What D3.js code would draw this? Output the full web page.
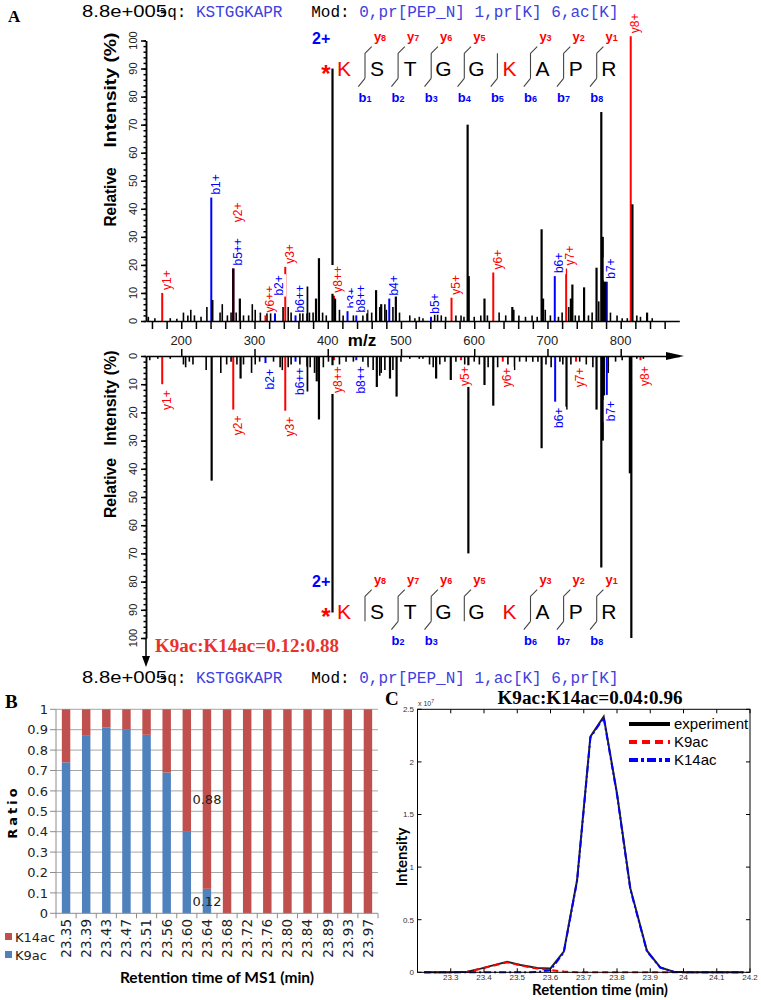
<!DOCTYPE html>
<html><head><meta charset="utf-8">
<script src="https://cdn.jsdelivr.net/npm/d3@7/dist/d3.min.js"></script>
<style>body{margin:0;background:#fff}</style>
</head><body>
<script>
// ================= DATA =================
const peptideSeq = "KSTGGKAPR";
const precursorLabel = "8.8e+005";
const modTop = "0,pr[PEP_N] 1,pr[K] 6,ac[K]";
const modBottom = "0,pr[PEP_N] 1,ac[K] 6,pr[K]";
const modifiedResidues = [0, 5];
const yIonNums = [8, 7, 6, 5, 4, 3, 2, 1];
const bIonNums = [1, 2, 3, 4, 5, 6, 7, 8];
const topYShown = [1, 1, 1, 1, 0, 1, 1, 1];
const topBShown = [1, 1, 1, 1, 1, 1, 1, 1];
const botYShown = [1, 1, 1, 1, 0, 1, 1, 1];
const botBShown = [0, 1, 1, 0, 0, 1, 1, 1];
const ratioTextA = "K9ac:K14ac=0.12:0.88";

const mzTicks = [200, 300, 400, 500, 600, 700, 800];
const intensityTicks = [0, 10, 20, 30, 40, 50, 60, 70, 80, 90, 100];

// top spectrum: [m/z, relative intensity]
const topNoise = [[155,1.5],[164,1],[185,1],[194,0.8],[203,3],[209,2],[213,4],[218,2],[227,1.5],[235,5],[253,3],[256,6],[263,2],[268,3],[275,3],[285,2],[292,2],[297,6],[301,4],[308,3],[317,3],[322,4],[339,5],[346,5],[350,3],[362,3],[366,3],[375,3],[380,3],[393,3],[398,2],[416,4],[421,2],[435,2],[448,2],[460,3],[471,5],[478,6],[480,4],[489,5],[498,3],[512,2],[519,1],[525,1.5],[530,1],[546,3],[550,3],[555,2],[561,1.5],[575,2],[582,2],[586,1.5],[600,1.5],[609,2],[618,2],[634,3],[643,2],[654,4],[661,2],[670,1.5],[679,2],[686,1.5],[697,4],[704,2],[715,1.5],[720,3],[729,5],[738,2],[743,2],[756,2],[761,3],[770,7],[786,3],[795,2],[802,1],[809,1],[822,2],[827,1.5],[843,1]];
const topMajor = [[242.5,7.5],[271,18.7],[280,8],[372,12.3],[384,8],[388,22.4],[406.5,90],[410,8],[454,4],[466,11],[473,6],[493,9],[591,70],[592.5,16],[614,8],[652,5],[692,32.7],[694,8],[732,8],[734,13],[750,12],[767,19],[773.5,74.5],[775.5,30],[777,14],[779,14],[816,41.6],[836,3]];
// annotated ions: [label, m/z, intensity, type]
const topIons = [["y1+",174,10,"y"],["b1+",241,44,"b"],["b5++",271,18.7,"b"],["y2+",271,18.7,"y"],["y6++",315,2,"y"],["b2+",328,8,"b"],["y3+",342,19.3,"y"],["b6++",356,2,"b"],["y8++",408.5,9,"y"],["b3+",427,3.5,"b"],["b8++",439,2,"b"],["b4+",484,8,"b"],["b5+",541,1.5,"b"],["y5+",569,8.3,"y"],["y6+",626,17.3,"y"],["b6+",710,16,"b"],["y7+",725.5,18.7,"y"],["b7+",781,14,"b"],["y8+",813.7,101.5,"y"]];

// bottom (mirror) spectrum
const botNoise = [[157,1.5],[168,1],[185,1],[203,3],[206,4],[211,2],[216,3],[234,5],[254,6],[262,3],[268,2],[276,3],[285,3],[296,6],[301,3],[307,2],[326,2],[335,4],[338,5],[346,4],[350,3],[362,3],[376,4],[382,6],[394,4],[401,2],[416,3],[425,2],[435,2],[448,2],[455,4],[462,5],[471,7],[473,6],[478,5],[489,5],[500,2],[512,1],[525,1],[530,1],[539,3],[544,4],[553,3],[560,2],[575,2],[587,3],[600,2],[607,3],[619,4],[632,4],[646,3],[655,5],[662,2],[671,2],[680,2],[687,2],[698,3],[705,4],[717,2],[721,3],[732,3],[744,2],[753,3],[762,4],[783,6],[793,2],[802,1.5],[822,1],[831,1]];
const botMajor = [[241.5,44.2],[281,8],[372,12.6],[385,9],[388,22.5],[406.5,91],[467,11],[485,8],[494,14.4],[548,8],[568,8.5],[592,70],[614,10.3],[626,17.6],[692,32.7],[726,19],[767,19],[773.5,75],[775.5,30],[777,14],[812.5,41.6],[814.5,100]];
const botIons = [["y1+",174,10,"y"],["y2+",271,19,"y"],["b2+",315,2.5,"b"],["y3+",342,19.4,"y"],["b6++",356,2,"b"],["y8++",408.5,1.5,"y"],["b8++",439,1.5,"b"],["y5+",582,1.5,"y"],["y6+",639,2,"y"],["b6+",710.5,16.2,"b"],["y7+",739,2,"y"],["b7+",781,13.8,"b"],["y8+",827,1.5,"y"]];

// panel B
const rtLabels = ["23.35","23.39","23.43","23.47","23.51","23.56","23.60","23.64","23.68","23.72","23.76","23.80","23.84","23.89","23.93","23.97"];
const k9acRatio  = [0.74,0.87,0.91,0.90,0.875,0.69,0.40,0.12,0,0,0,0,0,0,0,0];
const k14acRatio = [0.26,0.13,0.09,0.10,0.125,0.31,0.60,0.88,1,1,1,1,1,1,1,1];
const ratioTicks = [0,0.1,0.2,0.3,0.4,0.5,0.6,0.7,0.8,0.9,1];
const ratioTickLabels = ["0","0.1","0.2","0.3","0.4","0.5","0.6","0.7","0.8","0.9","1"];
const labelledBar = "23.64";

// panel C (intensity in units of 1e7)
const rtTimes    = [23.22,23.26,23.30,23.35,23.39,23.43,23.47,23.51,23.56,23.60,23.64,23.68,23.72,23.76,23.80,23.84,23.89,23.93,23.97,24.01,24.05,24.09,24.14,24.18];
const expInt     = [0,0,0,0.005,0.035,0.068,0.10,0.07,0.04,0.037,0.196,0.877,2.24,2.43,1.70,0.80,0.205,0.047,0.005,0,0,0,0,0];
const k9acInt    = [0,0,0,0.005,0.033,0.065,0.095,0.065,0.035,0.02,0.008,0,0,0,0,0,0,0,0,0,0,0,0,0];
const k14acInt   = [0,0,0,0,0,0,0,0,0.003,0.02,0.19,0.87,2.23,2.42,1.69,0.79,0.20,0.045,0.005,0,0,0,0,0];
const cXTicks = [23.3,23.4,23.5,23.6,23.7,23.8,23.9,24,24.1,24.2];
const cXTickLabels = ["23.3","23.4","23.5","23.6","23.7","23.8","23.9","24","24.1","24.2"];
const cYTicks = [0,0.5,1,1.5,2,2.5];
const cYTickLabels = ["0","0.5","1","1.5","2","2.5"];
const legendC = ["experiment","K9ac","K14ac"];
const titleC = "K9ac:K14ac=0.04:0.96";

// ================= DRAWING =================
const SANS = "Liberation Sans, Arial, sans-serif";
const SERIF = "Liberation Serif, Times New Roman, serif";
const MONO = "Liberation Mono, Courier New, monospace";
const RED = "#ff0000", BLUE = "#0000ff", MODBLUE = "#4040e0";

const svg = d3.select("body").append("svg")
  .attr("width", 761).attr("height", 1000)
  .style("font-family", SANS);

function header(yb, mod) {
  const t = svg.append("text").attr("x", 148).attr("y", yb)
    .attr("font-family", MONO).attr("font-size", 16).style("white-space", "pre");
  t.append("tspan").attr("fill", "#000").text("Seq: ");
  t.append("tspan").attr("fill", MODBLUE).text(peptideSeq);
  t.append("tspan").attr("fill", "#000").text("   Mod: ");
  t.append("tspan").attr("fill", MODBLUE).text(mod);
  svg.append("rect").attr("x", 80).attr("y", yb - 15).attr("width", 81).attr("height", 20).attr("fill", "#fff");
  svg.append("text").attr("x", 82).attr("y", yb).attr("font-size", 16)
    .attr("textLength", 85).attr("lengthAdjust", "spacingAndGlyphs").text(precursorLabel);
}
header(17, modTop);
header(683, modBottom);

// panel letters
svg.append("text").attr("x", 8).attr("y", 22).attr("font-family", SERIF).attr("font-weight", "bold").attr("font-size", 17).text("A");
svg.append("text").attr("x", 5).attr("y", 708).attr("font-family", SERIF).attr("font-weight", "bold").attr("font-size", 19).text("B");
svg.append("text").attr("x", 385).attr("y", 705).attr("font-family", SERIF).attr("font-weight", "bold").attr("font-size", 19).text("C");

// ---------- Panel A ----------
const xA = d3.scaleLinear().domain([152, 880]).range([146.1, 679.3]);
const yTop = d3.scaleLinear().domain([0, 100]).range([321, 40.5]);
const yBot = d3.scaleLinear().domain([0, 100]).range([356, 638]);

const gA = svg.append("g");

function peaks(data, y, color, w) {
  gA.append("g").selectAll("line").data(data).join("line")
    .attr("x1", d => xA(d[0])).attr("x2", d => xA(d[0]))
    .attr("y1", y(0)).attr("y2", d => y(d[1]))
    .attr("stroke", color).attr("stroke-width", w);
}
const ionColor = t => t === "y" ? RED : BLUE;

function ionLines(ions, y) {
  gA.append("g").selectAll("line").data(ions).join("line")
    .attr("x1", d => xA(d[1])).attr("x2", d => xA(d[1]))
    .attr("y1", y(0)).attr("y2", d => y(d[2]))
    .attr("stroke", d => ionColor(d[3])).attr("stroke-width", 2);
}

peaks(topNoise, yTop, "#000", 1.6);
ionLines(topIons, yTop);
peaks(topMajor, yTop, "#000", 2.2);
peaks(botNoise, yBot, "#000", 1.6);
ionLines(botIons, yBot);
peaks(botMajor, yBot, "#000", 2.2);

function ionLabels(ions, y, isTop) {
  const stack = {};
  ions.forEach(d => {
    const x = xA(d[1]) + 4;
    let anchorY;
    if (isTop) {
      anchorY = y(d[2]) - 3;
      if (stack[d[1]] !== undefined) anchorY = stack[d[1]] - 16;
    } else {
      anchorY = y(d[2]) + 6;
    }
    const g = gA.append("g").attr("transform", `translate(${x},${anchorY}) rotate(-90)`);
    const r = g.append("rect").attr("fill", "#fff");
    const t = g.append("text").attr("font-size", 12).attr("fill", ionColor(d[3]))
      .attr("text-anchor", isTop ? "start" : "end").attr("dy", "0.36em").text(d[0]);
    const L = t.node().getComputedTextLength();
    r.attr("x", isTop ? -1 : -L - 1).attr("y", -7).attr("width", L + 2).attr("height", 14);
    if (isTop) stack[d[1]] = anchorY - L;
  });
}
ionLabels(topIons, yTop, true);
ionLabels(botIons, yBot, false);

// axes
const axisStyle = g => { g.selectAll("path,line").attr("stroke", "#000").attr("stroke-width", 1.5); g.selectAll("text").remove(); };
gA.append("g").attr("transform", "translate(146,0)")
  .call(d3.axisLeft(yTop).tickValues(intensityTicks).tickSize(5).tickSizeOuter(0)).call(axisStyle);
gA.append("g").attr("transform", "translate(146,0)")
  .call(d3.axisLeft(yTop).tickValues(d3.range(0, 101, 2)).tickSize(2.5).tickSizeOuter(0)).call(axisStyle);
gA.append("g").attr("transform", "translate(146,0)")
  .call(d3.axisLeft(yBot).tickValues(intensityTicks).tickSize(5).tickSizeOuter(0)).call(axisStyle);
gA.append("g").attr("transform", "translate(146,0)")
  .call(d3.axisLeft(yBot).tickValues(d3.range(0, 101, 2)).tickSize(2.5).tickSizeOuter(0)).call(axisStyle);
gA.append("g").attr("transform", "translate(0,321)")
  .call(d3.axisBottom(xA).tickValues(d3.range(160, 861, 20)).tickSize(8).tickSizeOuter(0)).call(axisStyle);
gA.append("g").attr("transform", "translate(0,356)")
  .call(d3.axisTop(xA).tickValues(mzTicks).tickSize(7).tickSizeOuter(0)).call(axisStyle);
// arrows
gA.append("line").attr("x1", 146).attr("x2", 146).attr("y1", 638).attr("y2", 660).attr("stroke", "#000").attr("stroke-width", 1.5);
gA.append("path").attr("d", "M142,656 L146,667 L150,656 Z").attr("fill", "#000");
gA.append("path").attr("d", "M666,352 L684,356 L666,360 Z").attr("fill", "#000");

// tick labels
gA.append("g").selectAll("text").data(mzTicks).join("text")
  .attr("x", d => xA(d)).attr("y", 345).attr("text-anchor", "middle")
  .attr("font-size", 13).attr("fill", "#222").text(d => d);
function yTickLabels(y) {
  gA.append("g").selectAll("text").data(intensityTicks).join("text")
    .attr("transform", d => `translate(137,${y(d)}) rotate(-90)`)
    .attr("text-anchor", "middle").attr("font-size", 11).attr("fill", "#222").text(d => d);
}
yTickLabels(yTop);
yTickLabels(yBot);
gA.append("text").attr("x", 362).attr("y", 346).attr("text-anchor", "middle")
  .attr("font-weight", "bold").attr("font-size", 17).text("m/z");

// axis titles (rotated)
function rotTitle(txt, cx, cy, len) {
  gA.append("text").attr("transform", `translate(${cx},${cy}) rotate(-90)`)
    .attr("text-anchor", "middle").attr("font-weight", "bold").attr("font-size", 16)
    .attr("textLength", len).attr("lengthAdjust", "spacingAndGlyphs").text(txt);
}
rotTitle("Relative", 116, 197, 59);
rotTitle("Intensity (%)", 116, 90, 115);
rotTitle("Relative", 116, 488, 60);
rotTitle("Intensity (%)", 116, 398, 95);

// sequence annotations
function sequence(cy, yShown, bShown) {
  const g = svg.append("g");
  const lx = i => 344 + i * 33.1;
  g.append("text").attr("x", 312).attr("y", cy - 24).attr("font-weight", "bold")
    .attr("font-size", 16).attr("fill", BLUE).text("2+");
  g.append("text").attr("x", 326).attr("y", cy + 14).attr("text-anchor", "middle")
    .attr("font-weight", "bold").attr("font-size", 24).attr("fill", RED).text("*");
  g.selectAll("text.res").data(peptideSeq.split("")).join("text").attr("class", "res")
    .attr("x", (d, i) => lx(i)).attr("y", cy + 7.5).attr("text-anchor", "middle")
    .attr("font-size", 21).attr("fill", (d, i) => modifiedResidues.includes(i) ? RED : "#000").text(d => d);
  for (let i = 0; i < 8; i++) {
    const xb = lx(i) + 21;
    if (!yShown[i] && !bShown[i]) continue;
    const p = g.append("path").attr("stroke", "#444").attr("stroke-width", 1.1).attr("fill", "none");
    let d = `M${xb},${cy - 14.7} L${xb},${cy + 10.3}`;
    if (yShown[i]) d += ` M${xb},${cy - 14.7} L${xb + 6.7},${cy - 21.3}`;
    if (bShown[i]) d += ` M${xb},${cy + 10.3} L${xb - 6.7},${cy + 18.7}`;
    p.attr("d", d);
    if (yShown[i]) {
      const t = g.append("text").attr("x", xb + 15).attr("y", cy - 27).attr("text-anchor", "middle")
        .attr("font-weight", "bold").attr("fill", RED);
      t.append("tspan").attr("font-size", 13).text("y");
      t.append("tspan").attr("font-size", 9).text(yIonNums[i]);
    }
    if (bShown[i]) {
      const t = g.append("text").attr("x", xb).attr("y", cy + 34).attr("text-anchor", "middle")
        .attr("font-weight", "bold").attr("fill", BLUE);
      t.append("tspan").attr("font-size", 13).text("b");
      t.append("tspan").attr("font-size", 9).text(bIonNums[i]);
    }
  }
}
sequence(68, topYShown, topBShown);
sequence(611, botYShown, botBShown);

svg.append("text").attr("x", 155).attr("y", 652).attr("font-family", SERIF).attr("font-weight", "bold")
  .attr("font-size", 18).attr("textLength", 184).attr("lengthAdjust", "spacingAndGlyphs")
  .attr("fill", "#e8322e").text(ratioTextA);

// ---------- Panel B ----------
const gB = svg.append("g").style("font-family", "DejaVu Sans, Verdana, sans-serif");
const xB = d3.scaleBand().domain(rtLabels).range([56, 378]).paddingInner(0.58).paddingOuter(0.29);
const yB = d3.scaleLinear().domain([0, 1]).range([913.3, 709.3]);
const table = rtLabels.map((rt, i) => ({ rt, K9ac: k9acRatio[i], K14ac: k14acRatio[i] }));
const stacked = d3.stack().keys(["K9ac", "K14ac"])(table);
const colorB = { K9ac: "#4f81bd", K14ac: "#c0504d" };

gB.append("g").selectAll("line").data(ratioTicks.slice(1)).join("line")
  .attr("x1", 56).attr("x2", 378).attr("y1", d => yB(d)).attr("y2", d => yB(d))
  .attr("stroke", "#a6a6a6").attr("stroke-width", 1);
gB.append("g").selectAll("line").data(ratioTicks).join("line")
  .attr("x1", 50).attr("x2", 56).attr("y1", d => yB(d)).attr("y2", d => yB(d))
  .attr("stroke", "#8c8c8c");
gB.append("line").attr("x1", 56).attr("x2", 56).attr("y1", yB(0)).attr("y2", yB(1)).attr("stroke", "#8c8c8c");

stacked.forEach(s => {
  gB.append("g").selectAll("rect").data(s).join("rect")
    .attr("x", d => xB(d.data.rt)).attr("width", xB.bandwidth())
    .attr("y", d => yB(d[1])).attr("height", d => yB(d[0]) - yB(d[1]))
    .attr("fill", colorB[s.key]);
});
gB.append("line").attr("x1", 56).attr("x2", 378).attr("y1", yB(0)).attr("y2", yB(0)).attr("stroke", "#8c8c8c");
gB.append("g").selectAll("line").data(d3.range(rtLabels.length + 1)).join("line")
  .attr("x1", i => 56 + i * xB.step()).attr("x2", i => 56 + i * xB.step())
  .attr("y1", yB(0)).attr("y2", yB(0) + 5).attr("stroke", "#8c8c8c");

gB.append("g").selectAll("text").data(ratioTicks).join("text")
  .attr("x", 48).attr("y", d => yB(d)).attr("dy", "0.36em").attr("text-anchor", "end")
  .attr("font-size", 13).attr("fill", "#222").text((d, i) => ratioTickLabels[i]);
gB.append("g").selectAll("text").data(rtLabels).join("text")
  .attr("transform", d => `translate(${xB(d) + xB.bandwidth() / 2},919) rotate(-90)`)
  .attr("dy", "0.36em").attr("text-anchor", "end").attr("font-size", 13.5).attr("fill", "#222").text(d => d);

// data labels
stacked.forEach(s => {
  const d = s.find(e => e.data.rt === labelledBar);
  gB.append("text").attr("x", xB(labelledBar) + xB.bandwidth() / 2).attr("y", yB((d[0] + d[1]) / 2))
    .attr("dy", "0.36em").attr("text-anchor", "middle").attr("font-size", 13).attr("fill", "#222")
    .text(d3.format(".2f")(d[1] - d[0]));
});

// legend B
[["K14ac", 937], ["K9ac", 955]].forEach(([k, yy]) => {
  gB.append("rect").attr("x", 5).attr("y", yy - 4).attr("width", 7).attr("height", 7).attr("fill", colorB[k]);
  gB.append("text").attr("x", 15).attr("y", yy).attr("dy", "0.36em").attr("font-size", 13).attr("fill", "#222").text(k);
});
gB.append("text").attr("transform", "translate(12,812) rotate(-90)").attr("text-anchor", "middle")
  .attr("font-weight", "bold").attr("font-size", 13).attr("letter-spacing", 3).attr("dy", "0.36em").text("Ratio");
gB.append("text").attr("x", 217).attr("y", 983).attr("text-anchor", "middle")
  .style("font-family", "Lato, sans-serif").attr("font-weight", "bold").attr("font-size", 15.5)
  .text("Retention time of MS1 (min)");

// ---------- Panel C ----------
const gC = svg.append("g");
const xC = d3.scaleLinear().domain([23.2, 24.2]).range([417.5, 750]);
const yC = d3.scaleLinear().domain([0, 2.5]).range([972.3, 709.3]);

const lineC = vals => d3.line().x((d, i) => xC(rtTimes[i])).y(d => yC(d))(vals);
gC.append("path").attr("d", lineC(expInt)).attr("fill", "none").attr("stroke", "#222").attr("stroke-width", 2);
gC.append("path").attr("d", lineC(k9acInt)).attr("fill", "none").attr("stroke", RED).attr("stroke-width", 2).attr("stroke-dasharray", "6,4");
gC.append("path").attr("d", lineC(k14acInt)).attr("fill", "none").attr("stroke", BLUE).attr("stroke-width", 2).attr("stroke-dasharray", "7,3,2,3");

gC.append("rect").attr("x", 417.5).attr("y", 709.3).attr("width", 750 - 417.5).attr("height", 972.3 - 709.3)
  .attr("fill", "none").attr("stroke", "#000").attr("stroke-width", 1);
// inward ticks
gC.append("g").selectAll("line").data(cXTicks).join("line")
  .attr("x1", d => xC(d)).attr("x2", d => xC(d)).attr("y1", 972.3).attr("y2", 968.3).attr("stroke", "#000");
gC.append("g").selectAll("line").data(cXTicks).join("line")
  .attr("x1", d => xC(d)).attr("x2", d => xC(d)).attr("y1", 709.3).attr("y2", 713.3).attr("stroke", "#000");
gC.append("g").selectAll("line").data(cYTicks).join("line")
  .attr("x1", 417.5).attr("x2", 421.5).attr("y1", d => yC(d)).attr("y2", d => yC(d)).attr("stroke", "#000");
gC.append("g").selectAll("line").data(cYTicks).join("line")
  .attr("x1", 750).attr("x2", 746).attr("y1", d => yC(d)).attr("y2", d => yC(d)).attr("stroke", "#000");

gC.append("g").selectAll("text").data(cXTicks).join("text")
  .attr("x", d => xC(d)).attr("y", 980).attr("text-anchor", "middle").attr("font-size", 8).attr("fill", "#333")
  .text((d, i) => cXTickLabels[i]);
gC.append("g").selectAll("text").data(cYTicks).join("text")
  .attr("x", 414).attr("y", d => yC(d)).attr("dy", "0.36em").attr("text-anchor", "end").attr("font-size", 8).attr("fill", "#333")
  .text((d, i) => cYTickLabels[i]);
const sc = gC.append("text").attr("x", 418).attr("y", 706).attr("font-size", 7).attr("fill", "#333");
sc.append("tspan").text("x 10");
sc.append("tspan").attr("dy", -3).attr("font-size", 5).text("7");

gC.append("text").attr("x", 590).attr("y", 704).attr("text-anchor", "middle").attr("font-family", SERIF)
  .attr("font-weight", "bold").attr("font-size", 18).attr("textLength", 185).attr("lengthAdjust", "spacingAndGlyphs").text(titleC);
gC.append("text").attr("x", 600).attr("y", 995).attr("text-anchor", "middle").style("font-family", "Lato, sans-serif")
  .attr("font-weight", "bold").attr("font-size", 15).text("Retention time (min)");
gC.append("text").attr("transform", "translate(402,857) rotate(-90)").attr("text-anchor", "middle")
  .attr("dy", "0.36em").style("font-family", "Lato, sans-serif").attr("font-weight", "bold").attr("font-size", 15).text("Intensity");

// legend C
const legStyles = [["#000", null], [RED, "8,5"], [BLUE, "9,3,3,3"]];
legendC.forEach((name, i) => {
  const yy = 724 + i * 18;
  gC.append("line").attr("x1", 629).attr("x2", 670).attr("y1", yy).attr("y2", yy)
    .attr("stroke", legStyles[i][0]).attr("stroke-width", 4).attr("stroke-dasharray", legStyles[i][1]);
  gC.append("text").attr("x", 674).attr("y", yy).attr("dy", "0.36em").attr("font-size", 15).text(name);
});
</script>
</body></html>
